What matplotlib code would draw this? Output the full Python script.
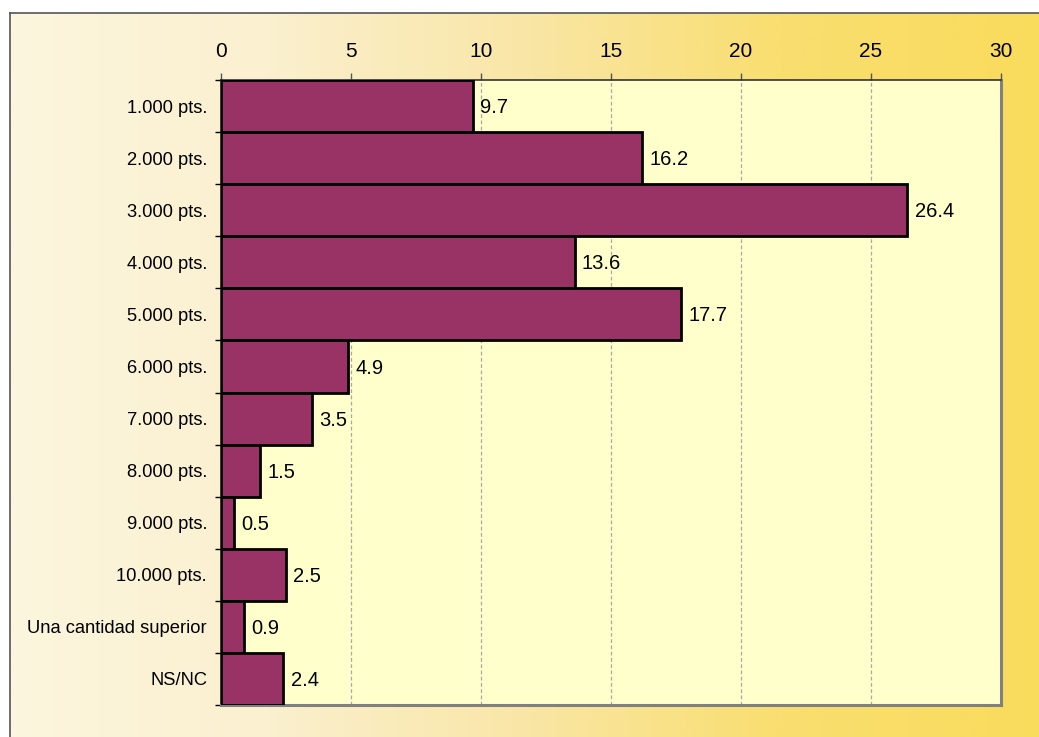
import numpy as np
import matplotlib
matplotlib.use("Agg")
import matplotlib.pyplot as plt
from matplotlib.colors import LinearSegmentedColormap

plt.rcParams['font.family'] = ['Liberation Sans', 'DejaVu Sans']

categories = ["1.000 pts.", "2.000 pts.", "3.000 pts.", "4.000 pts.", "5.000 pts.",
              "6.000 pts.", "7.000 pts.", "8.000 pts.", "9.000 pts.", "10.000 pts.",
              "Una cantidad superior", "NS/NC"]
values = [9.7, 16.2, 26.4, 13.6, 17.7, 4.9, 3.5, 1.5, 0.5, 2.5, 0.9, 2.4]
xticks = [0, 5, 10, 15, 20, 25, 30]

W, H = 1039, 737
fig = plt.figure(figsize=(W / 100, H / 100), dpi=100)
fig.patch.set_facecolor('white')

# Outer panel with horizontal cream-to-gold gradient
bg = fig.add_axes([10 / W, 0, 1 - 10 / W, (H - 13) / H])
cmap = LinearSegmentedColormap.from_list(
    "panel", ["#FCF6DE", "#FBF0CF", "#F9E6A6", "#F9DE70", "#F9DC5C"])
grad = np.linspace(0, 1, 512).reshape(1, -1)
bg.imshow(grad, aspect='auto', cmap=cmap, extent=[0, 1, 0, 1])
bg.set_xlim(0, 1)
bg.set_ylim(0, 1)
bg.set_xticks([])
bg.set_yticks([])
for side in ['right', 'bottom']:
    bg.spines[side].set_visible(False)
for side in ['left', 'top']:
    bg.spines[side].set_color('#555555')
    bg.spines[side].set_linewidth(1.2)

# Plot area
x0, x1 = 221, 1001
ytop, ybot = 80, 705
ax = fig.add_axes([x0 / W, (H - ybot) / H, (x1 - x0) / W, (ybot - ytop) / H])
ax.set_facecolor('#FFFFCC')

y = np.arange(len(categories))
ax.barh(y, values, height=1.0, color='#993366', edgecolor='black', linewidth=2.0, zorder=3)
for yi, v in zip(y, values):
    ax.text(v + 0.28, yi + 0.03, f"{v}", va='center', ha='left', fontsize=14.5,
            color='black', zorder=4)

ax.set_xlim(0, 30)
ax.set_ylim(len(categories) - 0.5, -0.5)
ax.set_xticks(xticks)
ax.set_xticklabels([str(t) for t in xticks], fontsize=15)
ax.xaxis.tick_top()
ax.tick_params(axis='x', which='major', direction='out', length=5, width=1,
               color='#555555', pad=8.5)
ax.xaxis.grid(True, color='#A8A8A8', linestyle=(0, (3, 2)), linewidth=0.9, zorder=1)
ax.set_axisbelow(True)

ax.set_yticks(y)
ax.set_yticklabels(categories, fontsize=13.2)
ax.set_yticks(np.arange(-0.5, len(categories), 1.0), minor=True)
ax.tick_params(axis='y', which='major', length=0, pad=10)
ax.tick_params(axis='y', which='minor', direction='out', length=4.5, width=1, color='black')

ax.spines['left'].set_color('black')
ax.spines['left'].set_linewidth(1.8)
ax.spines['top'].set_color('#333333')
ax.spines['top'].set_linewidth(1.2)
ax.spines['right'].set_color('#808080')
ax.spines['right'].set_linewidth(2.2)
ax.spines['bottom'].set_color('#808080')
ax.spines['bottom'].set_linewidth(2.2)

fig.savefig('out.png', dpi=100, facecolor=fig.get_facecolor())
